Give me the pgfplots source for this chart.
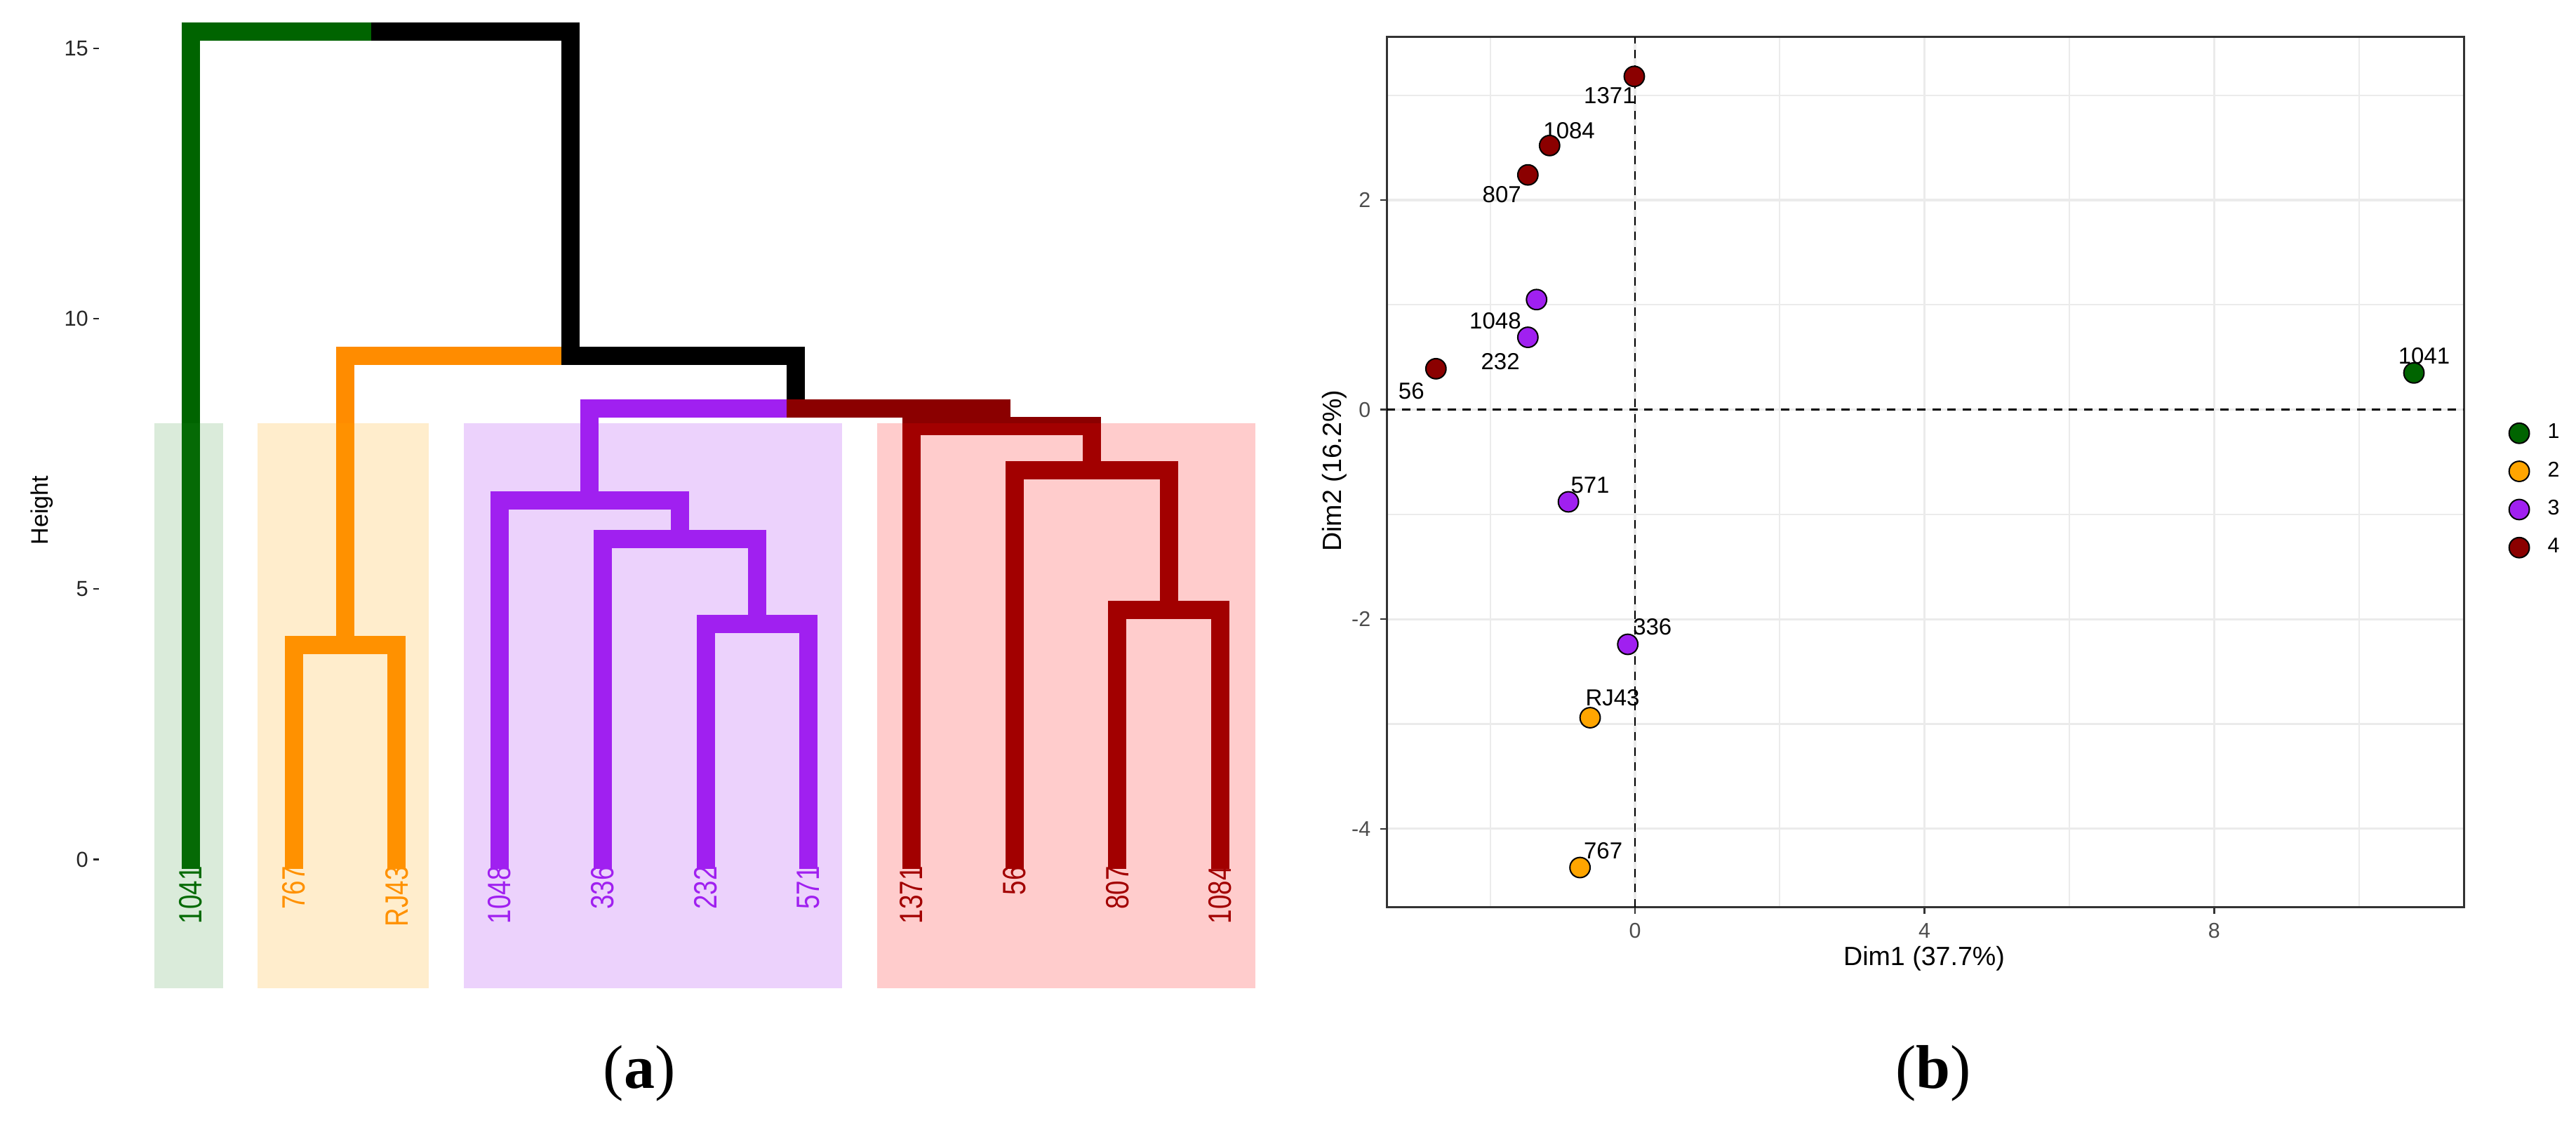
\documentclass[border=0pt]{standalone}
\usepackage{fontspec}
\setmainfont{Liberation Sans}
\newfontfamily\seriffont{Liberation Serif}
\usepackage{pgfplots}
\pgfplotsset{compat=1.18}
\definecolor{dgreen}{RGB}{0,100,0}
\definecolor{dorange}{RGB}{255,140,0}
\definecolor{cpurple}{RGB}{160,32,240}
\definecolor{dred}{RGB}{139,0,0}
\definecolor{rgreen}{RGB}{34,139,34}
\definecolor{rorange}{RGB}{255,165,0}
\definecolor{rred}{RGB}{255,0,0}
\definecolor{porange}{RGB}{255,165,0}
\definecolor{gridgray}{RGB}{235,235,235}
\definecolor{grey30}{RGB}{77,77,77}
\definecolor{grey20}{RGB}{51,51,51}
\begin{document}
\begin{tikzpicture}
\useasboundingbox (0,0) rectangle (917.75pt,399.75pt);
% ---------------- (a) dendrogram ----------------
\begin{axis}[
  at={(35.25pt,43.55pt)}, anchor=south west,
  x=36.675pt, y=19.26pt,
  xmin=0.107, xmax=11.893, ymin=-2.6, ymax=15.8,
  clip=false,
  separate axis lines,
  axis x line=none, axis y line*=left,
  y axis line style={draw=none},
  ytick={0,5,10,15}, yticklabels={0,5,10,15},
  tick align=outside, major tick length=2.1pt,
  ytick style={black!85, line width=0.55pt},
  yticklabel style={font=\fontsize{7.7}{9}\selectfont, text=black!85, inner sep=1.5pt},
  every axis plot/.append style={no markers, line cap=rect, line join=miter, line width=6.5pt},
]
\addplot[dgreen]   coordinates {(2.84375,15.31) (1,15.31) (1,0)};
\addplot[black]    coordinates {(2.84375,15.31) (4.6875,15.31) (4.6875,9.31)};
\addplot[dorange]  coordinates {(4.6875,9.31) (2.5,9.31) (2.5,3.97)};
\addplot[black]    coordinates {(4.6875,9.31) (6.875,9.31) (6.875,8.34)};
\addplot[dorange]  coordinates {(2.5,3.97) (2,3.97) (2,0)};
\addplot[dorange]  coordinates {(2.5,3.97) (3,3.97) (3,0)};
\addplot[cpurple]  coordinates {(6.875,8.34) (4.875,8.34) (4.875,6.64)};
\addplot[dred]     coordinates {(6.875,8.34) (8.875,8.34) (8.875,8.01)};
\addplot[cpurple]  coordinates {(4.875,6.64) (4,6.64) (4,0)};
\addplot[cpurple]  coordinates {(4.875,6.64) (5.75,6.64) (5.75,5.92)};
\addplot[cpurple]  coordinates {(5.75,5.92) (5,5.92) (5,0)};
\addplot[cpurple]  coordinates {(5.75,5.92) (6.5,5.92) (6.5,4.35)};
\addplot[cpurple]  coordinates {(6.5,4.35) (6,4.35) (6,0)};
\addplot[cpurple]  coordinates {(6.5,4.35) (7,4.35) (7,0)};
\addplot[dred]     coordinates {(8.875,8.01) (8,8.01) (8,0)};
\addplot[dred]     coordinates {(8.875,8.01) (9.75,8.01) (9.75,7.20)};
\addplot[dred]     coordinates {(9.75,7.20) (9,7.20) (9,0)};
\addplot[dred]     coordinates {(9.75,7.20) (10.5,7.20) (10.5,4.62)};
\addplot[dred]     coordinates {(10.5,4.62) (10,4.62) (10,0)};
\addplot[dred]     coordinates {(10.5,4.62) (11,4.62) (11,0)};
% leaf labels
\foreach \i/\lab/\col in {1/1041/dgreen,2/767/dorange,3/RJ43/dorange,4/1048/cpurple,5/336/cpurple,6/232/cpurple,7/571/cpurple,8/1371/dred,9/56/dred,10/807/dred,11/1084/dred}{
  \edef\temp{\noexpand\node[rotate=90, xscale=0.8, anchor=east, inner sep=0pt, text=\col, font=\noexpand\fontsize{11.5}{12}\noexpand\selectfont] at (axis cs:\i,-0.12) {\lab};}
  \temp
}
% cluster rectangles
\addplot[draw=none, fill=rgreen, fill opacity=0.17, line width=0pt] coordinates {(0.646,-2.38) (1.314,-2.38) (1.314,8.07) (0.646,8.07)} -- cycle;
\addplot[draw=none, fill=rorange, fill opacity=0.2, line width=0pt] coordinates {(1.648,-2.38) (3.311,-2.38) (3.311,8.07) (1.648,8.07)} -- cycle;
\addplot[draw=none, fill=cpurple, fill opacity=0.2, line width=0pt] coordinates {(3.652,-2.38) (7.326,-2.38) (7.326,8.07) (3.652,8.07)} -- cycle;
\addplot[draw=none, fill=rred, fill opacity=0.2, line width=0pt] coordinates {(7.667,-2.38) (11.34,-2.38) (11.34,8.07) (7.667,8.07)} -- cycle;
\end{axis}
\node[rotate=90, font=\fontsize{8.5}{10}\selectfont] at (14.9pt,218pt) {Height};
% ---------------- (b) PCA scatter ----------------
\begin{axis}[
  at={(494.04pt,76.56pt)}, anchor=south west,
  x=25.79pt, y=37.325pt,
  xmin=-3.43, xmax=11.45, ymin=-4.75, ymax=3.556,
  axis line style={draw=grey20, line width=0.67pt},
  xtick={0,4,8}, xticklabels={0,4,8},
  ytick={-4,-2,0,2}, yticklabels={-4,-2,0,2},
  minor xtick={-2,2,6,10}, minor ytick={-3,-1,1,3},
  tick pos=left,
  grid=both,
  major grid style={draw=gridgray, line width=0.8pt},
  minor grid style={draw=gridgray, line width=0.55pt},
  tick align=outside, major tick length=2.2pt, minor tick length=0pt,
  tick style={grey20, line width=0.6pt},
  ticklabel style={font=\fontsize{7.6}{9}\selectfont, text=grey30},
  legend style={at={(1.042,0.479)}, anchor=west, draw=none, fill=none,
    inner sep=0pt, outer sep=0pt, row sep=5.8pt, column sep=6pt,
    font=\fontsize{7.6}{9}\selectfont, nodes={inner sep=0.5pt}},
  legend cell align=left,
  legend image code/.code={\draw[#1] plot coordinates {(0pt,0pt)};},
  clip=false,
]
\addplot[black, line width=0.6pt, dash pattern=on 3pt off 2.4pt, forget plot] coordinates {(-3.43,0) (11.45,0)};
\addplot[black, line width=0.6pt, dash pattern=on 3pt off 2.4pt, forget plot] coordinates {(0,-4.75) (0,3.556)};
\addplot[only marks, mark=*, mark size=3.6pt, draw=black, fill=dgreen, line width=0.5pt] coordinates {(10.76,0.35)};
\addplot[only marks, mark=*, mark size=3.6pt, draw=black, fill=porange, line width=0.5pt] coordinates {(-0.62,-2.94) (-0.76,-4.37)};
\addplot[only marks, mark=*, mark size=3.6pt, draw=black, fill=cpurple, line width=0.5pt] coordinates {(-1.36,1.05) (-1.48,0.69) (-0.92,-0.88) (-0.10,-2.24)};
\addplot[only marks, mark=*, mark size=3.6pt, draw=black, fill=dred, line width=0.5pt] coordinates {(-0.01,3.18) (-1.18,2.52) (-1.48,2.24) (-2.75,0.39)};
\legend{1,2,3,4}
\foreach \px/\py/\lab in {-0.35/3.00/1371, -0.91/2.66/1084, -1.84/2.05/807, -1.93/0.85/1048, -1.86/0.46/232, -3.09/0.18/56, 10.90/0.51/1041, -0.62/-0.72/571, 0.24/-2.07/336, -0.31/-2.75/RJ43, -0.44/-4.21/767}{
  \edef\temp{\noexpand\node[inner sep=0pt, font=\noexpand\fontsize{8.25}{9}\noexpand\selectfont] at (axis cs:\px,\py) {\lab};}
  \temp
}
\end{axis}
\node[font=\fontsize{9.4}{11}\selectfont] at (685.5pt,58.25pt) {Dim1 (37.7\%)};
\node[rotate=90, font=\fontsize{9.4}{11}\selectfont] at (475.4pt,232.1pt) {Dim2 (16.2\%)};
% captions
\node[anchor=base, inner sep=0pt, font=\seriffont\fontsize{22}{24}\selectfont] at (227.75pt,12.25pt) {(\textbf{a})};
\node[anchor=base, inner sep=0pt, font=\seriffont\fontsize{22}{24}\selectfont] at (688.75pt,12.25pt) {(\textbf{b})};
\end{tikzpicture}
\end{document}
